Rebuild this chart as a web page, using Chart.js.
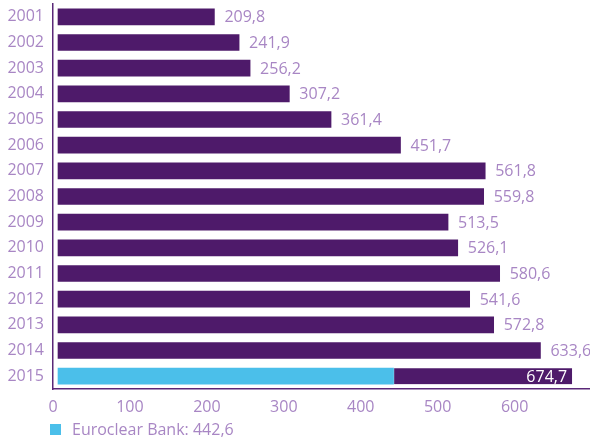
<!DOCTYPE html>
<html>
<head>
<meta charset="utf-8">
<script src="https://cdn.jsdelivr.net/npm/chart.js@4"></script>
<style>
    html, body { margin: 0; padding: 0; background: #fff; }
    #wrap { position: relative; width: 590px; height: 441px; }
    #legend { position: absolute; left: 50px; top: 418px; font: 16px "Open Sans", sans-serif; color: #a886c4; display: flex; align-items: center; }
    #legend span.box { display: inline-block; width: 11px; height: 11px; background: #4bbfea; margin-right: 11px; }
</style>
</head>
<body>
<div id="wrap">
    <canvas id="chart" width="590" height="441"></canvas>
    <div id="legend"><span class="box"></span><span id="legendText"></span></div>
</div>
<script>
// values
const years = ["2001", "2002", "2003", "2004", "2005", "2006", "2007", "2008", "2009", "2010", "2011", "2012", "2013", "2014", "2015"];
const totals = [209.8, 241.9, 256.2, 307.2, 361.4, 451.7, 561.8, 559.8, 513.5, 526.1, 580.6, 541.6, 572.8, 633.6, 674.7];
const euroclearBank = 442.6;
const xTicks = [0, 100, 200, 300, 400, 500, 600];

const purple = "#4e1a6a";
const blue = "#4bbfea";
const lavender = "#a886c4";
const last = years.length - 1;

const fmt = v => v.toFixed(1).replace(".", ",");
document.getElementById("legendText").textContent = "Euroclear Bank: " + fmt(euroclearBank);

// the 2015 purple part sits on top of the Euroclear Bank share
const purpleData = totals.map((v, i) => i === last ? [euroclearBank, v] : v);
const blueData = years.map((y, i) => i === last ? euroclearBank : null);

const valueLabels = {
    id: "valueLabels",
    afterDatasetsDraw(chart) {
        const ctx = chart.ctx;
        const meta = chart.getDatasetMeta(1);
        ctx.save();
        ctx.font = '16px "Open Sans", sans-serif';
        ctx.textBaseline = "middle";
        meta.data.forEach((bar, i) => {
            const txt = fmt(totals[i]);
            if (i === last) {
                ctx.fillStyle = "#ffffff";
                ctx.textAlign = "right";
                ctx.fillText(txt, bar.x - 5, bar.y + 1);
            } else {
                ctx.fillStyle = lavender;
                ctx.textAlign = "left";
                ctx.fillText(txt, bar.x + 10, bar.y + 1);
            }
        });
        ctx.restore();
    }
};

const ctx = document.getElementById("chart").getContext("2d");
new Chart(ctx, {
    type: "bar",
    data: {
        labels: years,
        datasets: [
            {
                label: "Euroclear Bank",
                data: blueData,
                backgroundColor: blue,
                base: 6.5,
                barThickness: 16
            },
            {
                label: "Total",
                data: purpleData,
                backgroundColor: purple,
                base: 6.5,
                barThickness: 16,
                borderColor: "#c9ecf9",
                borderWidth: c => c.dataIndex === last ? { left: 1 } : 0,
                borderSkipped: c => c.dataIndex === last ? false : "start"
            }
        ]
    },
    options: {
        indexAxis: "y",
        responsive: false,
        animation: false,
        grouped: false,
        layout: { padding: { top: 4, left: 0, right: 0, bottom: 0 } },
        plugins: {
            legend: { display: false },
            tooltip: { enabled: false }
        },
        scales: {
            x: {
                min: 0,
                max: 698,
                afterBuildTicks: s => { s.ticks = xTicks.map(v => ({ value: v })); },
                afterFit: s => { s.height = 52; s.paddingLeft = 0; s.paddingRight = 0; },
                grid: { display: false, drawTicks: false },
                border: { display: true, color: "#5a2878", width: 1.5 },
                ticks: {
                    color: lavender,
                    padding: 9,
                    font: { family: "Open Sans", size: 16 }
                }
            },
            y: {
                afterFit: s => { s.width = 53; s.paddingTop = 0; s.paddingBottom = 0; },
                grid: { display: false, drawTicks: false },
                border: { display: true, color: "#5a2878", width: 1.5 },
                ticks: {
                    color: lavender,
                    padding: 9,
                    font: { family: "Open Sans", size: 16 }
                }
            }
        }
    },
    plugins: [valueLabels]
});
</script>
</body>
</html>
